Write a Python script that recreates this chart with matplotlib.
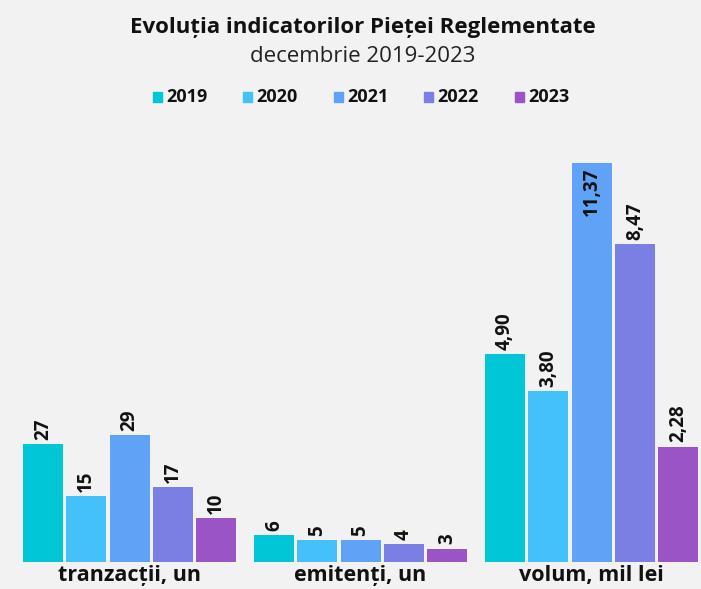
import numpy as np
import matplotlib
matplotlib.use("Agg")
from matplotlib import pyplot as plt

plt.rcParams['font.family'] = ['Open Sans', 'DejaVu Sans']

years = ['2019', '2020', '2021', '2022', '2023']
colors = ['#00c6d6', '#45c1fa', '#60a2f6', '#7b7fe4', '#9a54c6']
tranzactii = [27, 15, 29, 17, 10]
emitenti = [6, 5, 5, 4, 3]
volum = [4.90, 3.80, 11.37, 8.47, 2.28]
groups = ['tranzacții, un', 'emitenți, un', 'volum, mil lei']

W, H = 701, 589
fig = plt.figure(figsize=(W / 100, H / 100), dpi=100)
fig.patch.set_facecolor('#f2f2f2')

# axes: baseline at y=561.7 px, top at 150 px
ax = fig.add_axes([0, (H - 561.7) / H, 1, 411.7 / H])
ax.set_facecolor('none')
ax2 = ax.twinx()
ax2.set_facecolor('none')

step = 43.3          # px per bar slot
width = 40 / step
gstep = 231 / step
ax.set_xlim(-43 / step, (W - 43) / step)
ax.set_ylim(0, 411.7 / 4.37)

# volume panel was drawn on a compressed scale in the original
pw = 0.773
ax2.set_yscale('function', functions=(lambda v: np.abs(v) ** pw,
                                      lambda v: np.abs(v) ** (1 / pw)))
ax2.set_ylim(0, 11.85)


def fmt(v, dec):
    if dec:
        return f"{v:.2f}".replace('.', ',')
    return str(v)


datasets = [(ax, tranzactii, False), (ax, emitenti, False), (ax2, volum, True)]
for g, (a, vals, dec) in enumerate(datasets):
    xs = g * gstep + np.arange(len(vals))
    a.bar(xs, vals, width=width, color=colors, zorder=2)
    for x, v in zip(xs, vals):
        inside = dec and v == max(vals)
        a.annotate(fmt(v, dec), (x, v), xytext=(0, -3 if inside else 3),
                   textcoords='offset points', rotation=90, ha='center',
                   va='top' if inside else 'bottom', fontsize=13.5,
                   fontweight='bold', color='#111111')
    ax.annotate(groups[g], (g * gstep + 2, 0), xytext=(0, -2.5),
                textcoords='offset points', ha='center', va='top',
                fontsize=15.5, fontweight='bold', color='#111111')

for a in (ax, ax2):
    a.axis('off')

fig.text(0.518, 1 - 28 / H, 'Evoluția indicatorilor Pieței Reglementate',
         ha='center', va='center', fontsize=16, fontweight='bold',
         color='#111111')
fig.text(0.518, 1 - 57 / H, 'decembrie 2019-2023', ha='center',
         va='center', fontsize=16, color='#222222')

# legend
lx0 = 157
for i, (y, c) in enumerate(zip(years, colors)):
    x = lx0 + i * 90.5
    fig.patches.append(plt.Rectangle(((x - 4.5) / W, 1 - 101.5 / H), 9 / W,
                                     9 / H, color=c,
                                     transform=fig.transFigure))
    fig.text((x + 9) / W, 1 - 97 / H, y, ha='left', va='center',
             fontsize=13, fontweight='bold', color='#111111')

fig.savefig('out.png', dpi=100, facecolor=fig.get_facecolor())
